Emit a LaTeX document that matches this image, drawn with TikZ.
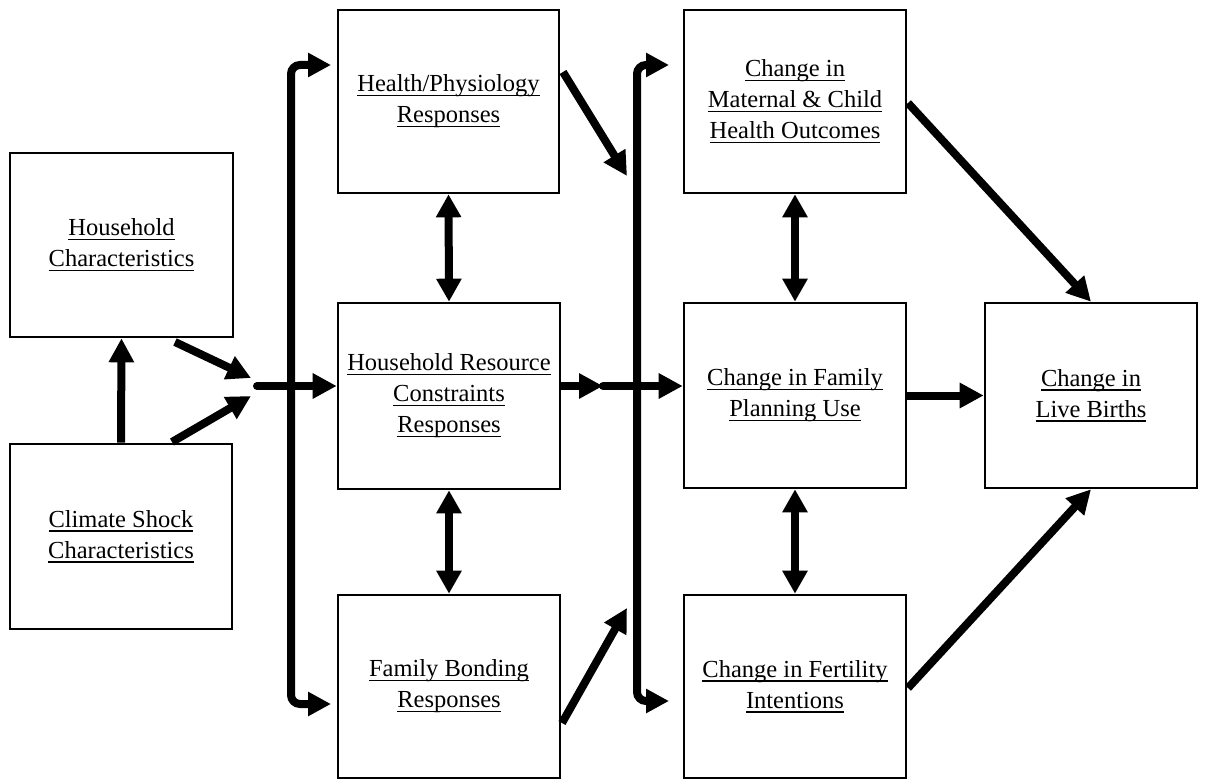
\documentclass[tikz,border=0pt]{standalone}
\usepackage{fontspec}
\setmainfont{Liberation Serif}
\usetikzlibrary{arrows.meta}
\newsavebox\ulbox
\newcommand\myul[1]{\sbox\ulbox{#1}\rlap{\rule[-4.5pt]{\wd\ulbox}{1.3pt}}\usebox\ulbox}
\begin{document}
\begin{tikzpicture}[x=1pt,y=-1pt,
  box/.style={draw=black,line width=2.6pt,rectangle,align=center,inner sep=0pt,
    font=\fontsize{24.5}{31}\selectfont},
  arr/.style={line width=8pt,-{Triangle[length=24pt 0 0,width=24pt 0 0]}},
  darr/.style={line width=8pt,{Triangle[length=23pt 0 0,width=24pt 0 0]}-{Triangle[length=23pt 0 0,width=24pt 0 0]}},
  brk/.style={line width=8pt,rounded corners=9pt,-{Triangle[length=23pt 0 0,width=23pt 0 0]}},
  bar/.style={line width=8pt,line cap=round}]
\useasboundingbox (0,0) rectangle (1209,781);
% nodes
\node[box,minimum width=223pt,minimum height=184pt] (hc) at (121.5,245) {\myul{Household}\\\myul{Characteristics}};
\node[box,minimum width=222pt,minimum height=185pt] (cs) at (121,536.5) {\myul{Climate Shock}\\\myul{Characteristics}};
\node[box,minimum width=221pt,minimum height=183pt] (hp) at (448.5,101.5) {\myul{Health/Physiology}\\\myul{Responses}};
\node[box,minimum width=222pt,minimum height=186pt] (hr) at (449,396) {\myul{Household Resource}\\\myul{Constraints}\\\myul{Responses}};
\node[box,minimum width=222pt,minimum height=183pt] (fb) at (449,686.5) {\myul{Family Bonding}\\\myul{Responses}};
\node[box,minimum width=222pt,minimum height=183pt] (mc) at (795,101.5) {\myul{Change in}\\\myul{Maternal \& Child}\\\myul{Health Outcomes}};
\node[box,minimum width=222pt,minimum height=185pt] (fp) at (795,395.5) {\myul{Change in Family}\\\myul{Planning Use}};
\node[box,minimum width=222pt,minimum height=183pt] (fi) at (795,686.5) {\myul{Change in Fertility}\\\myul{Intentions}};
\node[box,minimum width=212pt,minimum height=185pt] (lb) at (1091,395.5) {\myul{Change in}\\\myul{Live Births}};
% coordinates
\coordinate (hcout) at (175,342);
\coordinate (csout) at (172,442);
\coordinate (m1a) at (251,378);
\coordinate (m1b) at (251,396);
\coordinate (m1) at (257,386);
\coordinate (b1) at (291,386);
\coordinate (b1top) at (331,65);
\coordinate (b1bot) at (331,704);
\coordinate (hpout) at (563,72);
\coordinate (hpin) at (627,176);
\coordinate (fbout) at (562,723);
\coordinate (fbin) at (627,608);
\coordinate (m2) at (603,386);
\coordinate (b2) at (637,386);
\coordinate (b2top) at (669,65);
\coordinate (b2bot) at (669,701);
\coordinate (mcout) at (908,103);
\coordinate (fiout) at (908,688);
% left part
\draw[arr] (cs.north) -- (hc.south);
\draw[arr] (hcout) -- (m1a);
\draw[arr] (csout) -- (m1b);
\draw[bar] (m1) -- (b1);
\draw[brk] (b1) |- (b1top);
\draw[brk] (b1) |- (b1bot);
\draw[arr] (b1) -- (hr.west |- b1);
% middle
\draw[darr] (hp.south) -- (hr.north);
\draw[darr] (hr.south) -- (fb.north);
\draw[arr] (hpout) -- (hpin);
\draw[arr] (fbout) -- (fbin);
\draw[arr] (hr.east |- m2) -- (m2);
\draw[bar] (m2) -- (b2);
\draw[brk] (b2) |- (b2top);
\draw[brk] (b2) |- (b2bot);
\draw[arr] ([xshift=3pt]b2) -- (fp.west |- b2);
% right
\draw[darr] (mc.south) -- (fp.north);
\draw[darr] (fp.south) -- (fi.north);
\draw[arr] (mcout) -- (lb.north);
\draw[arr] (fp.east) -- (lb.west);
\draw[arr] (fiout) -- (lb.south);
\end{tikzpicture}
\end{document}
